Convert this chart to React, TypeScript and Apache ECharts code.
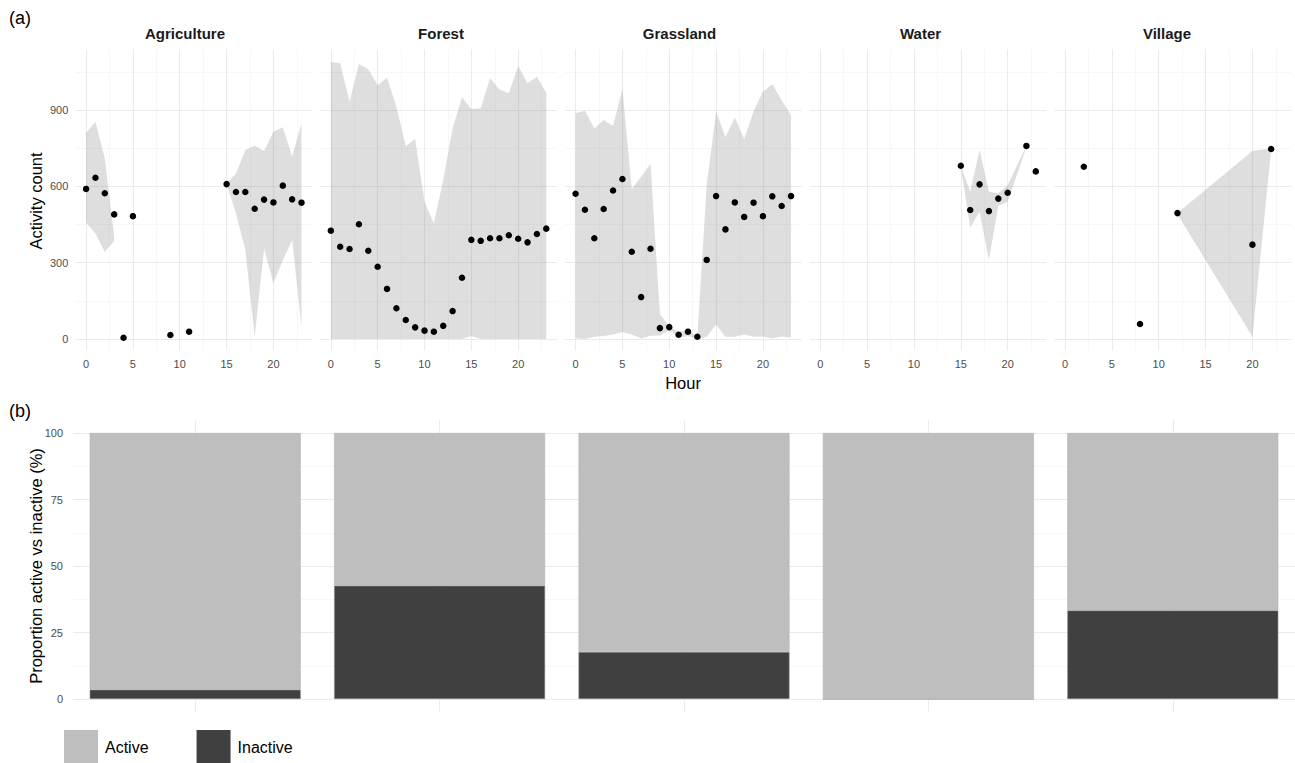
import React, { useEffect, useRef } from "react";
import * as echarts from "echarts";

// ---------- data ----------
const landUses = ["Agriculture", "Forest", "Grassland", "Water", "Village"];

const agricultureHours = [0, 1, 2, 3, 4, 5, 9, 11, 15, 16, 17, 18, 19, 20, 21, 22, 23];
const agricultureCounts = [590, 634, 573, 490, 5, 483, 16, 29, 609, 578, 578, 512, 548, 537, 603, 549, 536];
const agricultureRibbonHours = [0, 1, 2, 3, null, 15, 16, 17, 18, 19, 20, 21, 22, 23];
const agricultureRibbonLower = [457, 415, 342, 385, null, 609, 494, 350, 9, 356, 219, 310, 389, 48];
const agricultureRibbonUpper = [811, 854, 710, 405, null, 612, 651, 743, 761, 739, 815, 832, 717, 848];

const forestHours = [0, 1, 2, 3, 4, 5, 6, 7, 8, 9, 10, 11, 12, 13, 14, 15, 16, 17, 18, 19, 20, 21, 22, 23];
const forestCounts = [426, 363, 354, 451, 347, 284, 197, 121, 75, 46, 33, 29, 52, 110, 241, 390, 386, 396, 396, 408, 394, 380, 413, 434];
const forestRibbonHours = [0, 1, 2, 3, 4, 5, 6, 7, 8, 9, 10, 11, 12, 13, 14, 15, 16, 17, 18, 19, 20, 21, 22, 23];
const forestRibbonLower = [0, 0, 0, 0, 0, 0, 0, 0, 0, 0, 0, 0, 0, 0, 0, 12, 0, 0, 0, 0, 0, 0, 0, 0];
const forestRibbonUpper = [1089, 1084, 933, 1081, 1060, 998, 1027, 913, 759, 786, 540, 455, 625, 828, 950, 904, 907, 1025, 981, 966, 1073, 1005, 1031, 968];

const grasslandHours = [0, 1, 2, 3, 4, 5, 6, 7, 8, 9, 10, 11, 12, 13, 14, 15, 16, 17, 18, 19, 20, 21, 22, 23];
const grasslandCounts = [571, 508, 396, 511, 584, 629, 343, 165, 355, 43, 47, 17, 29, 9, 311, 562, 431, 537, 480, 536, 483, 561, 523, 562];
const grasslandRibbonHours = [0, 1, 2, 3, 4, 5, 6, 7, 8, 9, 10, 11, 12, 13, 14, 15, 16, 17, 18, 19, 20, 21, 22, 23];
const grasslandRibbonLower = [3, 0, 9, 12, 18, 28, 18, 2, 13, 14, 35, 5, 12, 0, 9, 57, 9, 9, 18, 9, 10, 2, 10, 6];
const grasslandRibbonUpper = [887, 897, 828, 861, 837, 983, 590, 638, 688, 98, 48, 30, 35, 10, 605, 894, 793, 871, 786, 894, 972, 1001, 939, 880];

const waterHours = [15, 16, 17, 18, 19, 20, 22, 23];
const waterCounts = [681, 507, 608, 503, 552, 575, 759, 659];
const waterRibbonHours = [15, 16, 17, 18, 19, 20, 22];
const waterRibbonLower = [679, 438, 500, 311, 524, 540, 754];
const waterRibbonUpper = [681, 579, 743, 579, 573, 605, 759];

const villageHours = [2, 8, 12, 20, 22];
const villageCounts = [677, 59, 495, 371, 747];
const villageRibbonHours = [12, 20, 22];
const villageRibbonLower = [491, 9, 743];
const villageRibbonUpper = [495, 739, 750];

const hourTicks = [0, 5, 10, 15, 20];
const hourMinorTicks = [2.5, 7.5, 12.5, 17.5, 22.5];
const countTicks = [0, 300, 600, 900];
const countMinorTicks = [150, 450, 750, 1050];

const inactivePct = [3.5, 42.6, 17.7, 0, 33.3];
const activePct = [96.5, 57.4, 82.3, 100, 66.7];
const pctTicks = [0, 25, 50, 75, 100];
const pctMinorTicks = [12.5, 37.5, 62.5, 87.5];

// ---------- helpers ----------
const FONT = "'Liberation Sans', Arial, Helvetica, sans-serif";
const panelData = [
  { hours: agricultureHours, counts: agricultureCounts, rh: agricultureRibbonHours, lo: agricultureRibbonLower, up: agricultureRibbonUpper },
  { hours: forestHours, counts: forestCounts, rh: forestRibbonHours, lo: forestRibbonLower, up: forestRibbonUpper },
  { hours: grasslandHours, counts: grasslandCounts, rh: grasslandRibbonHours, lo: grasslandRibbonLower, up: grasslandRibbonUpper },
  { hours: waterHours, counts: waterCounts, rh: waterRibbonHours, lo: waterRibbonLower, up: waterRibbonUpper },
  { hours: villageHours, counts: villageCounts, rh: villageRibbonHours, lo: villageRibbonLower, up: villageRibbonUpper },
];

const titleCenters = [185, 441, 679.5, 920.5, 1167];

const MAJOR = { color: "#EBEBEB", width: 1.1, type: "solid" };
const MINOR = { color: "#F1F1F1", width: 0.6, type: "solid" };

function gridMarkLines(xs: any[], xsMinor: any[], ys: number[], ysMinor: number[]) {
  const d: any[] = [];
  xsMinor.forEach((v) => d.push({ xAxis: v, lineStyle: MINOR }));
  ysMinor.forEach((v) => d.push({ yAxis: v, lineStyle: MINOR }));
  xs.forEach((v) => d.push({ xAxis: v, lineStyle: MAJOR }));
  ys.forEach((v) => d.push({ yAxis: v, lineStyle: MAJOR }));
  return {
    silent: true,
    symbol: "none",
    z: 1,
    animation: false,
    label: { show: false },
    emphasis: { disabled: true },
    data: d,
  };
}

function buildOption() {
  const grids: any[] = [];
  const xAxes: any[] = [];
  const yAxes: any[] = [];
  const series: any[] = [];
  const graphics: any[] = [];

  const PANEL_TOP = 49;
  const PANEL_H = 301.5;
  const PANEL_W = 237;

  panelData.forEach((p, i) => {
    const left = 75.3 + i * 244.75;
    grids.push({ left, top: PANEL_TOP, width: PANEL_W, height: PANEL_H, containLabel: false });
    xAxes.push({
      type: "value",
      gridIndex: i,
      min: -1.15,
      max: 24.15,
      axisLine: { show: false },
      axisTick: { show: false },
      splitLine: { show: false },
      minorSplitLine: { show: false },
      axisLabel: {
        customValues: hourTicks,
        color: "#4D4D4D",
        fontSize: 11,
        fontFamily: FONT,
        margin: 8,
      },
    });
    yAxes.push({
      type: "value",
      gridIndex: i,
      min: -45,
      max: 1140,
      axisLine: { show: false },
      axisTick: { show: false },
      splitLine: { show: false },
      axisLabel: {
        show: i === 0,
        customValues: countTicks,
        color: "#4D4D4D",
        fontSize: 11,
        fontFamily: FONT,
        margin: 7,
      },
    });
    // grid lines
    series.push({
      type: "line",
      xAxisIndex: i,
      yAxisIndex: i,
      data: [],
      silent: true,
      markLine: gridMarkLines(hourTicks, hourMinorTicks, countTicks, countMinorTicks),
    });
    // ribbon
    const segs: number[][] = [];
    let cur: number[] = [];
    p.rh.forEach((h, k) => {
      if (h === null) {
        if (cur.length) segs.push(cur);
        cur = [];
      } else cur.push(k);
    });
    if (cur.length) segs.push(cur);
    series.push({
      type: "custom",
      xAxisIndex: i,
      yAxisIndex: i,
      z: 2,
      silent: true,
      data: segs.map((s) => [p.rh[s[0]], p.lo[s[0]]]),
      renderItem: (params: any, api: any) => {
        const s = segs[params.dataIndex];
        const top = s.map((k) => api.coord([p.rh[k], p.up[k]]));
        const bot = s
          .slice()
          .reverse()
          .map((k) => api.coord([p.rh[k], p.lo[k]]));
        return {
          type: "polygon",
          shape: { points: top.concat(bot) },
          style: { fill: "rgba(127,127,127,0.26)", stroke: "none" },
        };
      },
    });
    // points
    series.push({
      type: "scatter",
      xAxisIndex: i,
      yAxisIndex: i,
      z: 3,
      symbolSize: 6.5,
      itemStyle: { color: "#000000", opacity: 1 },
      silent: true,
      data: p.hours.map((h, k) => [h, p.counts[k]]),
    });
    graphics.push({
      type: "text",
      x: titleCenters[i],
      y: 33,
      style: {
        text: landUses[i],
        font: `bold 15px ${FONT}`,
        fill: "#1A1A1A",
        align: "center",
        verticalAlign: "middle",
      },
    });
  });

  // panel (b)
  const bIdx = panelData.length;
  grids.push({ left: 73, top: 419.7, width: 1224, height: 292.6, containLabel: false });
  xAxes.push({
    type: "category",
    gridIndex: bIdx,
    data: landUses,
    axisLine: { show: false },
    axisTick: { show: false },
    axisLabel: { show: false },
    splitLine: { show: false },
  });
  yAxes.push({
    type: "value",
    gridIndex: bIdx,
    min: -5,
    max: 105,
    axisLine: { show: false },
    axisTick: { show: false },
    splitLine: { show: false },
    axisLabel: {
      customValues: pctTicks,
      color: "#4D4D4D",
      fontSize: 11,
      fontFamily: FONT,
      margin: 10,
    },
  });
  series.push({
    type: "line",
    xAxisIndex: bIdx,
    yAxisIndex: bIdx,
    data: [],
    silent: true,
    markLine: gridMarkLines(landUses, [], pctTicks, pctMinorTicks),
  });
  series.push({
    name: "Inactive",
    type: "bar",
    stack: "b",
    xAxisIndex: bIdx,
    yAxisIndex: bIdx,
    barWidth: 211,
    z: 2,
    itemStyle: { color: "#404040", borderColor: "#8A8A8A", borderWidth: 0.6 },
    data: inactivePct,
  });
  series.push({
    name: "Active",
    type: "bar",
    stack: "b",
    xAxisIndex: bIdx,
    yAxisIndex: bIdx,
    barWidth: 211,
    z: 2,
    itemStyle: { color: "#BEBEBE", borderColor: "#B4B4B4", borderWidth: 0.6 },
    data: activePct,
  });

  graphics.push(
    {
      type: "text",
      x: 9,
      y: 18,
      style: { text: "(a)", font: `18px ${FONT}`, fill: "#000", verticalAlign: "middle" },
    },
    {
      type: "text",
      x: 9,
      y: 411,
      style: { text: "(b)", font: `18px ${FONT}`, fill: "#000", verticalAlign: "middle" },
    },
    {
      type: "text",
      x: 36,
      y: 201,
      rotation: Math.PI / 2,
      style: { text: "Activity count", font: `16.5px ${FONT}`, fill: "#000", align: "center", verticalAlign: "middle" },
    },
    {
      type: "text",
      x: 683,
      y: 383,
      style: { text: "Hour", font: `16.5px ${FONT}`, fill: "#000", align: "center", verticalAlign: "middle" },
    },
    {
      type: "text",
      x: 36,
      y: 566,
      rotation: Math.PI / 2,
      style: {
        text: "Proportion active vs inactive (%)",
        font: `16.5px ${FONT}`,
        fill: "#000",
        align: "center",
        verticalAlign: "middle",
      },
    }
  );

  return {
    animation: false,
    backgroundColor: "#FFFFFF",
    textStyle: { fontFamily: FONT },
    grid: grids,
    xAxis: xAxes,
    yAxis: yAxes,
    series,
    graphic: graphics,
    legend: {
      data: ["Active", "Inactive"],
      left: 64,
      top: 730,
      padding: 0,
      itemWidth: 34,
      itemHeight: 34,
      itemGap: 48,
      icon: "rect",
      selectedMode: false,
      itemStyle: { borderWidth: 0 },
      textStyle: { fontSize: 16, color: "#000", fontFamily: FONT, padding: [0, 0, 0, 2] },
    },
  };
}

export default function App() {
  const ref = useRef<HTMLDivElement>(null);
  useEffect(() => {
    if (!ref.current) return;
    const chart = echarts.init(ref.current, undefined, { renderer: "svg" });
    chart.setOption(buildOption() as any);
    return () => chart.dispose();
  }, []);
  return (
    <div
      ref={ref}
      style={{ position: "fixed", left: 0, top: 0, width: 1295, height: 763, background: "#fff" }}
    />
  );
}
